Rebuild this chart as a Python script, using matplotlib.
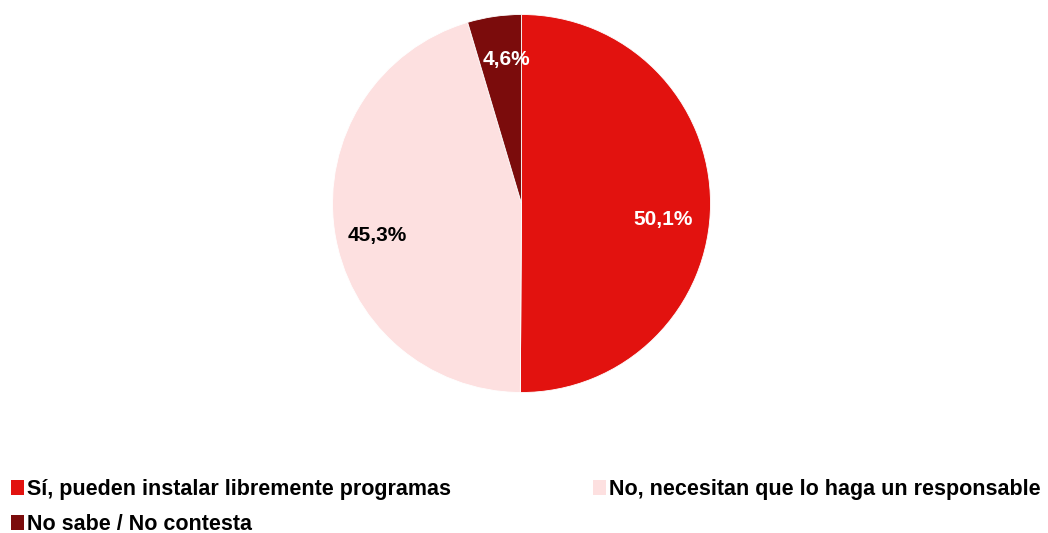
import matplotlib
matplotlib.use("Agg")
from matplotlib import pyplot as plt
from matplotlib.patches import Rectangle

plt.rcParams["font.family"] = ["Liberation Sans", "DejaVu Sans"]

labels = [
    "Sí, pueden instalar libremente programas",
    "No, necesitan que lo haga un responsable",
    "No sabe / No contesta",
]
values = [50.1, 45.3, 4.6]
value_text = ["50,1%", "45,3%", "4,6%"]
colors = ["#E2120F", "#FDE0E0", "#7B0C0C"]
text_colors = ["white", "black", "white"]

W, H = 1048, 533
fig = plt.figure(figsize=(W / 100, H / 100), dpi=100)
ax = fig.add_axes([0, 0, 1, 1])

cx, cy, r = 521.5, H - 203.5, 189
wedges, _ = ax.pie(values, colors=colors, startangle=90, counterclock=False,
                   center=(cx, cy), radius=r, frame=True,
                   wedgeprops=dict(edgecolor="white", linewidth=0.6))
ax.set_xlim(0, W)
ax.set_ylim(0, H)
ax.set_aspect("equal")
ax.axis("off")

# value labels (pixel positions from top-left)
label_pos = [(663, 219), (377, 235), (506, 60)]
for (x, y), t, c in zip(label_pos, value_text, text_colors):
    ax.text(x, H - y, t, ha="center", va="center", fontsize=15,
            fontweight="bold", color=c)

# legend, drawn by hand: rows left-to-right like the original
legend_pos = [(11, 495), (593, 495), (11, 530)]
for (x, y), lab, c in zip(legend_pos, labels, colors):
    ax.add_patch(Rectangle((x, H - y), 13, 15, facecolor=c, edgecolor="none",
                           clip_on=False))
    ax.text(x + 16, H - y, lab, ha="left", va="baseline", fontsize=15.5,
            fontweight="bold", color="black")

fig.savefig("out.png", dpi=100)
